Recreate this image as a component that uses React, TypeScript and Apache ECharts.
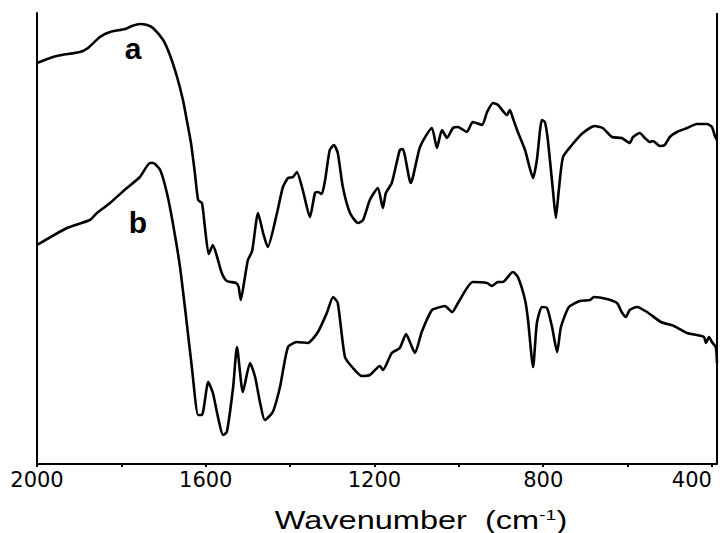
import React, { useEffect, useRef } from 'react';
import * as echarts from 'echarts';

// Spectrum a: wavenumber (cm-1) and transmittance (a.u.)
const wavenumbersA = [
  2000, 1962, 1941, 1898, 1879, 1851, 1827, 1791, 1775, 1756, 1739, 1725, 1701, 1685, 1668, 1654,
  1645, 1635, 1626, 1618, 1609, 1602, 1593, 1583, 1573, 1562, 1550, 1528, 1522, 1517, 1507, 1500,
  1490, 1476, 1464, 1453, 1431, 1417, 1405, 1393, 1384, 1370, 1353, 1341, 1334, 1325, 1317, 1306,
  1296, 1287, 1275, 1258, 1239, 1227, 1211, 1192, 1180, 1173, 1159, 1140, 1133, 1114, 1092, 1064,
  1052, 1040, 1028, 1014, 1002, 981, 967, 945, 933, 919, 907, 886, 879, 872, 862, 843,
  824, 815, 803, 796, 789, 777, 770, 763, 753, 732, 706, 678, 659, 637, 614, 595,
  587, 571, 559, 547, 540, 523, 512, 500, 483, 459, 436, 412, 400, 393, 388,
];
const transmittanceA = [
  401, 407, 409, 412, 416, 427, 432, 435, 438, 440, 439, 436, 424, 409, 387, 364,
  344, 321, 292, 264, 261, 237, 210, 219, 207, 191, 183, 181, 177, 164, 187, 204,
  213, 251, 231, 217, 251, 277, 286, 287, 292, 274, 247, 271, 272, 270, 284, 314,
  319, 311, 277, 251, 241, 244, 264, 276, 256, 271, 281, 314, 315, 281, 317, 336,
  316, 334, 326, 336, 337, 332, 342, 339, 352, 361, 359, 349, 354, 346, 334, 314,
  286, 304, 344, 342, 324, 274, 246, 274, 307, 319, 331, 338, 336, 327, 326, 321,
  327, 331, 326, 322, 323, 318, 319, 327, 332, 336, 340, 340, 337, 328, 324,
];

// Spectrum b
const wavenumbersB = [
  2000, 1929, 1875, 1858, 1827, 1787, 1756, 1732, 1725, 1708, 1692, 1678, 1661, 1645, 1633, 1618,
  1609, 1594, 1583, 1573, 1559, 1550, 1535, 1526, 1512, 1495, 1483, 1471, 1460, 1441, 1424, 1405,
  1384, 1358, 1334, 1313, 1298, 1287, 1270, 1251, 1230, 1211, 1187, 1180, 1159, 1140, 1125, 1116,
  1104, 1088, 1064, 1052, 1033, 1016, 1002, 967, 933, 922, 907, 896, 872, 860, 843, 836,
  824, 815, 803, 791, 779, 767, 758, 739, 713, 689, 680, 649, 625, 614, 604, 595,
  578, 554, 521, 490, 459, 436, 419, 414, 407, 400, 391, 388,
];
const transmittanceB = [
  219, 236, 244, 251, 261, 276, 287, 301, 301, 294, 271, 241, 197, 141, 97, 49,
  49, 82, 71, 51, 29, 32, 77, 117, 72, 101, 87, 61, 44, 52, 77, 117,
  122, 121, 132, 151, 167, 161, 107, 96, 88, 89, 98, 94, 111, 116, 130, 122,
  111, 132, 154, 156, 158, 152, 161, 182, 181, 178, 182, 182, 192, 187, 164, 144,
  97, 141, 157, 156, 137, 112, 137, 157, 163, 164, 167, 165, 161, 152, 147, 154,
  157, 152, 142, 138, 131, 129, 127, 121, 127, 122, 117, 101,
];

const xMin = 388;
const xMax = 2000;
const yMin = 0;
const yMax = 451;
const labelTicks = [2000, 1600, 1200, 800, 400];
const minorTicks = [2000, 1800, 1600, 1400, 1200, 1000, 800, 600, 400];
const curveLabels = [
  { name: 'a', wn: 1772, t: 416 },
  { name: 'b', wn: 1761, t: 242 },
];

export default function App() {
  const ref = useRef<HTMLDivElement>(null);
  useEffect(() => {
    document.body.style.margin = '0';
    if (!ref.current) return;
    const chart = echarts.init(ref.current, null, { renderer: 'svg' });
    const lineStyle = { color: '#000', width: 2.6 };
    const mkLabel = (l: { name: string; wn: number; t: number }) => ({
      symbol: 'circle',
      symbolSize: 0,
      data: [{ coord: [l.wn, l.t], value: l.name }],
      label: {
        show: true,
        position: 'inside',
        formatter: l.name,
        color: '#000',
        fontFamily: 'Liberation Sans',
        fontWeight: 'bold',
        fontSize: 30,
      },
    });
    chart.setOption({
      animation: false,
      backgroundColor: '#fff',
      grid: { left: 37, right: 11, top: 13, bottom: 69, containLabel: false, outerBoundsMode: 'none' },
      xAxis: {
        type: 'value',
        inverse: true,
        min: xMin,
        max: xMax,
        axisLine: { onZero: false, lineStyle: { color: '#000', width: 2 } },
        axisTick: {
          show: true,
          inside: false,
          length: 3,
          lineStyle: { color: '#000', width: 2 },
          customValues: minorTicks,
        },
        axisLabel: {
          customValues: labelTicks,
          formatter: (v: number) => String(v),
          fontFamily: 'DejaVu Sans',
          fontSize: 21,
          color: '#000',
          margin: 5,
          alignMinLabel: 'center',
          alignMaxLabel: 'right',
        },
        splitLine: { show: false },
      },
      yAxis: {
        type: 'value',
        min: yMin,
        max: yMax,
        axisLine: { show: true, onZero: false, lineStyle: { color: '#000', width: 2 } },
        axisTick: { show: false },
        axisLabel: { show: false },
        splitLine: { show: false },
      },
      series: [
        {
          type: 'line',
          name: 'a',
          data: wavenumbersA.map((w, i) => [w, transmittanceA[i]]),
          showSymbol: false,
          smooth: 0.2,
          lineStyle,
          markPoint: mkLabel(curveLabels[0]),
        },
        {
          type: 'line',
          name: 'b',
          data: wavenumbersB.map((w, i) => [w, transmittanceB[i]]),
          showSymbol: false,
          smooth: 0.2,
          lineStyle,
          markPoint: mkLabel(curveLabels[1]),
        },
        {
          type: 'line',
          name: 'frame',
          data: [
            [xMin, yMin],
            [xMin, yMax],
          ],
          showSymbol: false,
          clip: false,
          silent: true,
          lineStyle: { color: '#000', width: 2 },
          z: 5,
        },
      ],
      graphic: [
        {
          type: 'text',
          x: 421,
          y: 520,
          scaleX: 1.3,
          style: {
            text: '{t|Wavenumber  (cm}{s|-1}{t|)}',
            fill: '#000',
            align: 'center',
            verticalAlign: 'middle',
            rich: {
              t: { fontFamily: 'Liberation Sans', fontSize: 25, fill: '#000', verticalAlign: 'bottom' },
              s: { fontFamily: 'Liberation Sans', fontSize: 15, fill: '#000', verticalAlign: 'top' },
            },
          },
        },
      ],
    });
    return () => chart.dispose();
  }, []);
  return <div ref={ref} style={{ width: 728, height: 533 }} />;
}
